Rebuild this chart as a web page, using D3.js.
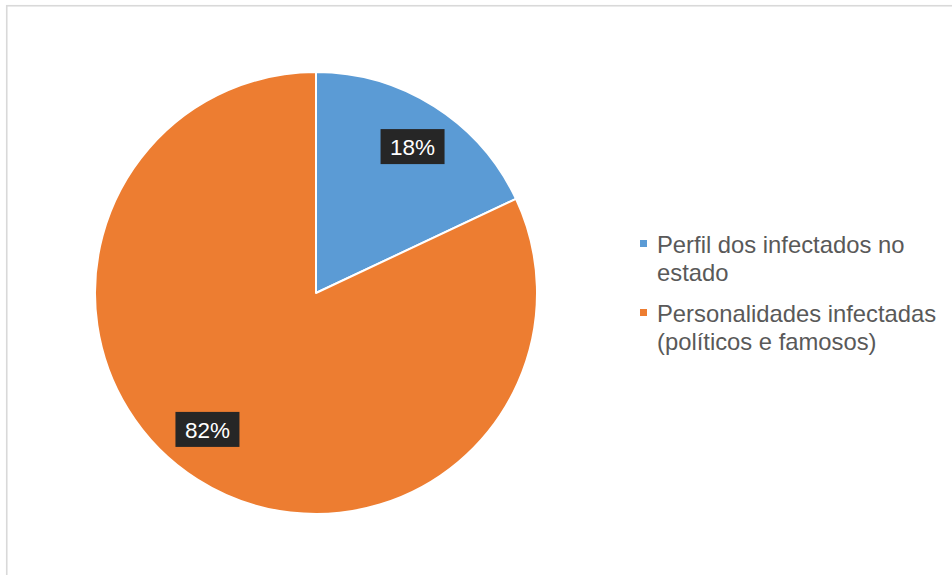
<!DOCTYPE html>
<html>
<head>
<meta charset="utf-8">
<script src="https://cdn.jsdelivr.net/npm/d3@7/dist/d3.min.js"></script>
<style>
  html, body { margin: 0; padding: 0; background: #ffffff; }
  svg { display: block; }
</style>
</head>
<body>
<svg id="chart" width="952" height="575"></svg>
<script>
// Share of infected people: state profile vs. public personalities
const categories = ["Perfil dos infectados no estado", "Personalidades infectadas (políticos e famosos)"];
const legendLines = [["Perfil dos infectados no", "estado"], ["Personalidades infectadas", "(políticos e famosos)"]];
const values = [18, 82];
const colors = ["#5B9BD5", "#ED7D31"];

const svg = d3.select("#chart");
const W = 952, H = 575;
const font = "'Liberation Sans', Arial, Helvetica, sans-serif";

// chart area frame (runs off the right and bottom edges)
svg.append("rect")
  .attr("x", 6.75).attr("y", 5.75)
  .attr("width", W + 20).attr("height", H + 20)
  .attr("fill", "#ffffff")
  .attr("stroke", "#d9d9d9")
  .attr("stroke-width", 1.6);

const cx = 316, cy = 293, r = 221;
const data = categories.map((c, i) => ({ name: c, value: values[i], color: colors[i] }));

const pie = d3.pie().sort(null).value(d => d.value);
const arcs = pie(data);
const arc = d3.arc().innerRadius(0).outerRadius(r);
const labelArc = d3.arc().innerRadius(r * 0.79).outerRadius(r * 0.79);

const g = svg.append("g").attr("transform", `translate(${cx},${cy})`);

g.selectAll("path.slice")
  .data(arcs)
  .join("path")
  .attr("class", "slice")
  .attr("d", arc)
  .attr("fill", d => d.data.color)
  .attr("stroke", "#ffffff")
  .attr("stroke-width", 2)
  .attr("stroke-linejoin", "round");

// percentage labels on dark boxes
const total = d3.sum(values);
const labels = g.selectAll("g.lbl")
  .data(arcs)
  .join("g")
  .attr("class", "lbl")
  .attr("transform", d => {
    const [x, y] = labelArc.centroid(d);
    // the larger slice's label sits a little further round, toward the lower left
    const adj = d.index === 1 ? [-15, -11] : [3, 1];
    return `translate(${x + adj[0]},${y + adj[1]})`;
  });

labels.append("rect")
  .attr("x", -32).attr("y", -17.5)
  .attr("width", 64).attr("height", 35)
  .attr("fill", "#262626");

labels.append("text")
  .attr("text-anchor", "middle")
  .attr("dy", "0.36em")
  .attr("font-family", font)
  .attr("font-size", 22.5)
  .attr("fill", "#ffffff")
  .text(d => Math.round(d.data.value / total * 100) + "%");

// legend
const legend = svg.append("g");
const legendTop = [253, 322];
legendLines.forEach((lines, i) => {
  const item = legend.append("g");
  item.append("rect")
    .attr("x", 640).attr("y", legendTop[i] - 13)
    .attr("width", 7).attr("height", 7)
    .attr("fill", colors[i]);
  item.append("text")
    .attr("x", 657).attr("y", legendTop[i])
    .attr("font-family", font)
    .attr("font-size", 23.8)
    .attr("fill", "#595959")
    .selectAll("tspan")
    .data(lines)
    .join("tspan")
    .attr("x", 657)
    .attr("dy", (d, j) => j === 0 ? 0 : 28)
    .text(d => d);
});
</script>
</body>
</html>
